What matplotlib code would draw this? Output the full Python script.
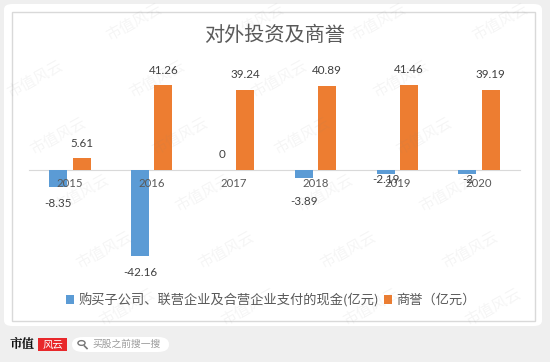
import matplotlib
matplotlib.use("Agg")
import matplotlib.pyplot as plt
from matplotlib.patches import FancyBboxPatch, Rectangle, Circle
from matplotlib.lines import Line2D
import numpy as np

plt.rcParams["font.family"] = ["Lato", "Noto Sans CJK SC", "DejaVu Sans"]

# -- 数据 --
years = ["2015", "2016", "2017", "2018", "2019", "2020"]
invest = [-8.35, -42.16, 0, -3.89, -2.19, -2]
goodwill = [5.61, 41.26, 39.24, 40.89, 41.46, 39.19]
invest_labels = ["-8.35", "-42.16", "0", "-3.89", "-2.19", "-2"]
goodwill_labels = ["5.61", "41.26", "39.24", "40.89", "41.46", "39.19"]
# 标签偏移(点), Excel 里部分标签被手动挪过
invest_dy = [-12, -11.3, 11.3, -17, -3.5, -3.8]

title = "对外投资及商誉"
leg_names = ["购买子公司、联营企业及合营企业支付的现金(亿元)", "商誉（亿元）"]

W, H = 550, 362
CJK = ["Noto Sans CJK SC", "DejaVu Sans"]


def fx(x):
    return x / W


def fy(y):
    return 1 - y / H


fig = plt.figure(figsize=(W / 100, H / 100), dpi=100)
fig.patch.set_facecolor("#efefef")

# 白色卡片 + 图表边框
fig.add_artist(FancyBboxPatch((fx(4), fy(326)), fx(538), 322 / H,
                              boxstyle="round,pad=0,rounding_size=0.015",
                              transform=fig.transFigure, fc="white", ec="none", zorder=-2))
fig.add_artist(Rectangle((fx(12), fy(321)), fx(523), 309 / H, transform=fig.transFigure,
                         fc="white", ec="#d9d9d9", lw=1, zorder=-1))

ax = fig.add_axes([fx(29), fy(280), fx(491), 220 / H])
ax.set_zorder(1)
ax.set_facecolor("none")
ax.set_axisbelow(False)
x = np.arange(len(years))
bw, off = 0.22, 0.143
b1 = ax.bar(x - off, invest, bw, color="#5b9bd5", label=leg_names[0], zorder=1)
b2 = ax.bar(x + off, goodwill, bw, color="#ed7d31", label=leg_names[1], zorder=1)
ax.set_xlim(-0.5, 5.5)
ax.set_ylim(-53.66, 53.66)

for s in ["top", "right", "left"]:
    ax.spines[s].set_visible(False)
ax.spines["bottom"].set_position(("data", 0))
ax.spines["bottom"].set_color("#d9d9d9")
ax.spines["bottom"].set_zorder(0.5)
ax.set_yticks([])
ax.set_xticks(x)
ax.set_xticklabels(years)
ax.tick_params(axis="x", length=0, pad=6, labelsize=8.2, labelcolor="#595959")

for xi, v, lb, dy in zip(x, invest, invest_labels, invest_dy):
    ax.annotate(lb, (xi - off, v), xytext=(0, dy), textcoords="offset points",
                ha="center", va="center", fontsize=8.4, color="#404040", zorder=3)
for xi, v, lb in zip(x, goodwill, goodwill_labels):
    ax.annotate(lb, (xi + off, v), xytext=(0, 11), textcoords="offset points",
                ha="center", va="center", fontsize=8.4, color="#404040", zorder=3)

fig.text(fx(274.5), fy(35), title, ha="center", va="center", fontsize=14.5,
         color="#595959", family=CJK)

fig.legend(handles=[b1, b2], loc="center", bbox_to_anchor=(fx(271), fy(300)), ncol=2,
           frameon=False, prop={"family": CJK, "size": 9.5}, labelcolor="#595959",
           handlelength=0.62, handleheight=0.62, handletextpad=0.3, columnspacing=0.4,
           borderaxespad=0, borderpad=0)

# -- 页脚 --
fig.text(fx(10), fy(344), "市值", ha="left", va="center", fontsize=9, fontweight="bold",
         color="#111111", family=["Noto Serif CJK SC", "Noto Sans CJK SC"])
fig.add_artist(Rectangle((fx(38), fy(351)), fx(29), 13 / H, transform=fig.transFigure,
                         fc="#e8282b", ec="none"))
fig.text(fx(52.5), fy(344.5), "风云", ha="center", va="center", fontsize=7.5, color="white",
         style="italic", family=CJK)
fig.add_artist(FancyBboxPatch((fx(72), fy(352)), fx(97), 15 / H,
                              boxstyle="round,pad=0,rounding_size=0.02",
                              transform=fig.transFigure, fc="white", ec="none"))
fig.add_artist(Circle((fx(81.5), fy(343)), 0.0065, transform=fig.transFigure,
                      fc="none", ec="#777777", lw=1))
fig.add_artist(Line2D([fx(84.5), fx(87)], [fy(346), fy(348.5)], transform=fig.transFigure,
                      color="#777777", lw=1.2))
fig.text(fx(92), fy(344), "买股之前搜一搜", ha="left", va="center", fontsize=7,
         color="#9a9a9a", family=CJK)

# -- 水印 --
for r in range(-1, 8):
    for c in range(-1, 6):
        wx = c * 122 + r * 23 + 12
        wy = r * 57 + 22
        if 28 < wx < W - 36 and 18 < wy < H - 18:
            fig.text(fx(wx), fy(wy), "市值风云", ha="center", va="center", fontsize=11,
                     rotation=29, color="#808080", alpha=0.08, family=CJK, zorder=10)

fig.savefig("out.png", dpi=100, facecolor=fig.get_facecolor())
